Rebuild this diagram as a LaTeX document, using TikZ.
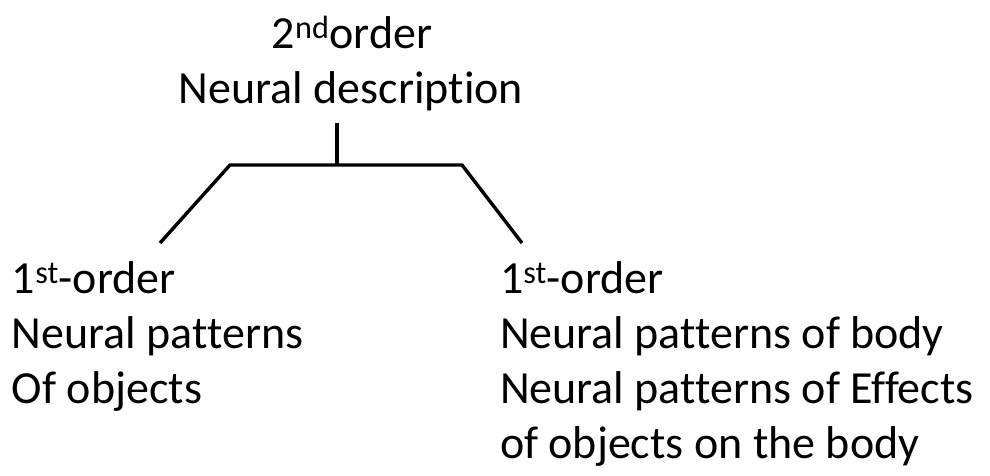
\documentclass[tikz,border=0pt]{standalone}
\usepackage{fontspec}
\setmainfont{Carlito}[Ligatures=NoCommon]
\begin{document}
\begin{tikzpicture}[x=1pt,y=-1pt,
  lbl/.style={inner sep=0pt, outer sep=0pt, font=\fontsize{46}{55}\selectfont},
  branch/.style={line width=3.4pt, line join=miter, black}]
\useasboundingbox (0,0) rectangle (990,475);
% top label
\node[lbl, anchor=base] (top1) at (352,48) {2\textsuperscript{nd}order};
\node[lbl, anchor=base] (top2) at (351,103) {Neural description};
% left branch labels
\node[lbl, anchor=base west] (l1) at (12,293) {1\textsuperscript{st}-order};
\node[lbl, anchor=base west] (l2) at (12,348) {Neural patterns};
\node[lbl, anchor=base west] (l3) at (12,403) {Of objects};
% right branch labels
\node[lbl, anchor=base west] (r1) at (500,293) {1\textsuperscript{st}-order};
\node[lbl, anchor=base west] (r2) at (500,348) {Neural patterns of body};
\node[lbl, anchor=base west] (r3) at (500,403) {Neural patterns of Effects};
\node[lbl, anchor=base west] (r4) at (500,458) {of objects on the body};
% connector tree
\coordinate (stemTop) at (337,123);
\coordinate (stemBot) at (337,165);
\coordinate (cornerL) at (230,165);
\coordinate (cornerR) at (462,165);
\coordinate (endL) at (160,243);
\coordinate (endR) at (522,243);
\draw[branch] (stemTop) -- (stemBot);
\draw[branch] (endL) -- (cornerL) -- (cornerR) -- (endR);
\end{tikzpicture}
\end{document}
